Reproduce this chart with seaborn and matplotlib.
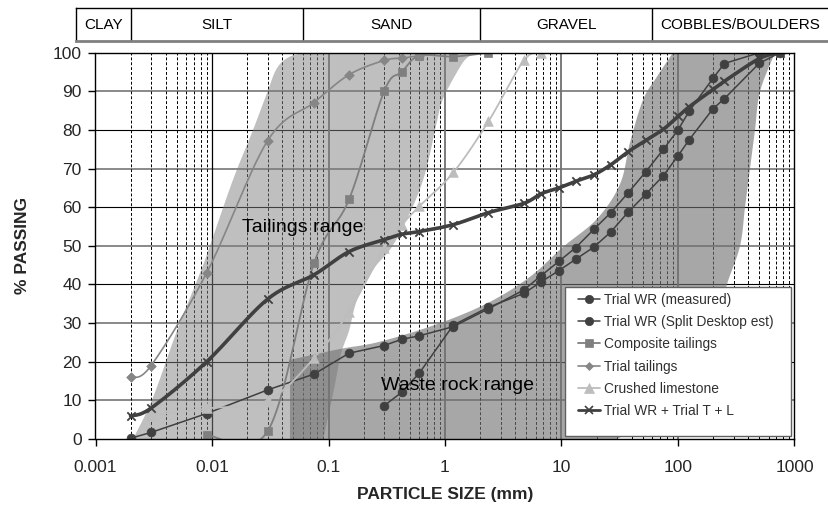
import numpy as np
import matplotlib
matplotlib.use("Agg")
import matplotlib.pyplot as plt
from matplotlib.lines import Line2D
from matplotlib.patches import Rectangle
import seaborn as sns

# ---------------- data ----------------
wr_meas_x = [0.002, 0.003, 0.009, 0.03, 0.075, 0.15, 0.3, 0.425, 0.6, 1.18, 2.36, 4.75, 6.7, 9.5,
             13.2, 19, 26.5, 37.5, 53, 75, 100, 125, 200, 250, 500]
wr_meas_y = [0.2, 1.7, 6.6, 12.7, 16.8, 22.2, 24.2, 25.8, 26.7, 29.1, 33.7, 38.6, 42.3, 46.0,
             49.5, 54.3, 58.6, 63.8, 69.2, 75.0, 80.0, 84.9, 93.4, 97.2, 100]
wr_split_x = [0.3, 0.425, 0.6, 1.18, 2.36, 4.75, 6.7, 9.5, 13.2, 19, 26.5, 37.5, 53, 75, 100,
              125, 200, 250, 500, 750]
wr_split_y = [8.6, 12.1, 17.0, 29.5, 34.1, 37.7, 40.7, 43.6, 46.5, 49.7, 53.6, 58.8, 63.4, 68.2,
              73.3, 77.5, 85.5, 88.1, 97.3, 100]
comp_x = [0.009, 0.03, 0.075, 0.15, 0.3, 0.425, 0.6, 1.18, 2.36]
comp_y = [1.0, 2.0, 45.5, 62.0, 90.0, 95.0, 99.2, 99.0, 100]
tail_x = [0.002, 0.003, 0.009, 0.03, 0.075, 0.15, 0.3, 0.425, 0.6]
tail_y = [16.0, 19.0, 43.0, 77.2, 87.1, 94.3, 98.0, 98.6, 99.2]
lime_x = [0.003, 0.009, 0.03, 0.075, 0.15, 0.3, 0.425, 0.6, 1.18, 2.36, 4.75, 6.7]
lime_y = [6.2, 7.9, 10.0, 20.9, 33.0, 49.4, 55.4, 60.2, 69.0, 82.2, 98.0, 100]
mix_x = [0.002, 0.003, 0.009, 0.03, 0.075, 0.15, 0.3, 0.425, 0.6, 1.18, 2.36, 4.75, 6.7, 9.5,
         13.2, 19, 26.5, 37.5, 53, 75, 100, 125, 200, 250, 500, 750]
mix_y = [6.0, 8.0, 20.0, 36.2, 42.5, 48.5, 51.6, 53.0, 53.7, 55.5, 58.6, 61.0, 63.5, 65.0,
         66.7, 68.4, 71.0, 74.4, 77.3, 80.2, 83.5, 86.0, 90.5, 92.6, 98.5, 100]

# envelope ranges
tr_left_x = [0.0021, 0.0031, 0.005, 0.0079, 0.0096, 0.0151, 0.0225, 0.0297, 0.0361, 0.0467, 0.0654]
tr_left_y = [0, 10.6, 28, 43, 50, 67, 80, 89.6, 96, 99, 100]
tr_right_x = [2.0, 1.55, 1.27, 0.96, 0.85, 0.70, 0.575, 0.436, 0.337, 0.241, 0.176, 0.15, 0.128, 0.11, 0.09]
tr_right_y = [100, 98.7, 95, 88, 82, 70.5, 62.7, 54.9, 49, 43.8, 36, 28, 22, 12, 0]

wr_upper_x = [0.0467, 0.1255, 0.277, 0.906, 2.43, 5.37, 10.3, 20.2, 31.8, 38.7, 50.1, 66.0, 90.6]
wr_upper_y = [20.5, 23.3, 25.2, 30, 35.5, 42, 49.7, 57, 66, 76.7, 87.8, 93.8, 100]
wr_right_x = [680, 506, 458, 415, 376, 341, 263, 216, 154, 90.6, 61, 30]
wr_right_y = [100, 90, 80, 70, 60, 50, 40, 30, 20, 10, 5, 0]

band_labels = ["CLAY", "SILT", "SAND", "GRAVEL", "COBBLES/BOULDERS"]
band_edges = [0.002, 0.06, 2, 60]

y_ticks = list(range(0, 101, 10))
x_ticks = [0.001, 0.01, 0.1, 1, 10, 100, 1000]
x_ticklabels = ["0.001", "0.01", "0.1", "1", "10", "100", "1000"]


def smooth(xs, ys, n=24):
    """Excel-style smoothed line (Catmull-Rom Bezier) in log-x space."""
    lx = np.log10(np.asarray(xs, float))
    y = np.asarray(ys, float)
    N = len(lx)
    outx, outy = [], []
    for i in range(N - 1):
        p0 = np.array([lx[i - 1], y[i - 1]]) if i > 0 else np.array([lx[i], y[i]])
        p1 = np.array([lx[i], y[i]])
        p2 = np.array([lx[i + 1], y[i + 1]])
        p3 = np.array([lx[i + 2], y[i + 2]]) if i + 2 < N else p2
        c1 = p1 + (p2 - p0) / 6.0
        c2 = p2 - (p3 - p1) / 6.0
        t = np.linspace(0, 1, n, endpoint=(i == N - 2))[:, None]
        b = ((1 - t) ** 3) * p1 + 3 * ((1 - t) ** 2) * t * c1 + 3 * (1 - t) * t ** 2 * c2 + t ** 3 * p2
        outx.extend(b[:, 0]); outy.extend(b[:, 1])
    return 10 ** np.array(outx), np.array(outy)


sns.set_style("white")
plt.rcParams['font.family'] = ['Liberation Sans', 'DejaVu Sans']

W, H = 829, 509
fig = plt.figure(figsize=(W / 100, H / 100), dpi=100)
ax_l, ax_r, ax_b, ax_t = 95.5, 794.5, 439, 52.7
ax = fig.add_axes([ax_l / W, 1 - ax_b / H, (ax_r - ax_l) / W, (ax_b - ax_t) / H])
ax.set_xscale('log')
ax.set_xlim(0.001, 1000)
ax.set_ylim(0, 100)

# gridlines
for v in range(10, 100, 10):
    if v % 20 == 0:
        ax.axhline(v, color='black', lw=0.8, zorder=0.5)
    else:
        ax.axhline(v, color='#808080', lw=1.3, zorder=0.5)
for dec in [0.001, 0.01, 0.1, 1, 10, 100]:
    for m in range(2, 10):
        ax.axvline(dec * m, color='black', lw=0.7, ls=(0, (3, 2)), zorder=0.5)
ax.axvline(0.01, color='black', lw=0.9, zorder=0.6)
for dec in [0.1, 1, 10, 100]:
    ax.axvline(dec, color='#707070', lw=1.3, zorder=0.6)

# range envelopes
lx1, ly1 = smooth(tr_left_x, tr_left_y, 12)
rx1, ry1 = smooth(tr_right_x, tr_right_y, 12)
ax.fill(np.r_[lx1, rx1], np.r_[ly1, ry1], color='#808080', alpha=0.5, lw=0, zorder=1)
ux, uy = smooth(wr_upper_x, wr_upper_y, 12)
rx2, ry2 = smooth(wr_right_x, wr_right_y, 12)
ax.fill(np.r_[wr_upper_x[0], ux, rx2], np.r_[0, uy, ry2], color='#727272', alpha=0.62, lw=0, zorder=1.1)

# series
series = [
    dict(x=wr_meas_x, y=wr_meas_y, c='#404040', m='o', s=40, lw=1.1, sm=False, label='Trial WR (measured)'),
    dict(x=wr_split_x, y=wr_split_y, c='#404040', m='o', s=40, lw=1.1, sm=False, label='Trial WR (Split Desktop est)'),
    dict(x=comp_x, y=comp_y, c='#7f7f7f', m='s', s=40, lw=1.3, sm=True, label='Composite tailings'),
    dict(x=tail_x, y=tail_y, c='#868686', m='D', s=24, lw=1.2, sm=True, label='Trial tailings'),
    dict(x=lime_x, y=lime_y, c='#bdbdbd', m='^', s=48, lw=1.3, sm=True, label='Crushed limestone'),
    dict(x=mix_x, y=mix_y, c='#404040', m='x', s=36, lw=2.6, sm=True, label='Trial WR + Trial T + L'),
]
for k, sd in enumerate(series):
    if sd['sm']:
        px, py = smooth(sd['x'], sd['y'])
    else:
        px, py = np.asarray(sd['x'], float), np.asarray(sd['y'], float)
    sns.lineplot(x=px, y=py, ax=ax, color=sd['c'], lw=sd['lw'], sort=False, estimator=None,
                 zorder=3 + k, legend=False)
    if sd['m'] == 'x':
        sns.scatterplot(x=sd['x'], y=sd['y'], ax=ax, color=sd['c'], marker='x', s=sd['s'],
                        linewidth=1.3, zorder=3.5 + k, legend=False)
    else:
        sns.scatterplot(x=sd['x'], y=sd['y'], ax=ax, color=sd['c'], marker=sd['m'], s=sd['s'],
                        edgecolor=sd['c'], linewidth=0.5, zorder=3.5 + k, legend=False)

# annotations
ax.text(0.018, 54.8, "Tailings range", fontsize=14, va='center', ha='left', color='black', zorder=10)
ax.text(0.282, 13.8, "Waste rock range", fontsize=14, va='center', ha='left', color='black', zorder=10)

# axes styling
for sp in ax.spines.values():
    sp.set_color('black'); sp.set_linewidth(1.0); sp.set_zorder(12)
ax.set_yticks(y_ticks)
ax.set_yticklabels([str(v) for v in y_ticks], fontsize=12.5)
ax.set_xticks(x_ticks)
ax.set_xticklabels(x_ticklabels, fontsize=12.5)
ax.xaxis.set_minor_locator(matplotlib.ticker.NullLocator())
ax.tick_params(axis='both', which='major', direction='out', length=5, width=1, color='black',
               left=True, bottom=True)
ax.tick_params(axis='y', pad=5)
ax.tick_params(axis='x', pad=10)
ax.set_xlabel("PARTICLE SIZE (mm)", fontsize=12.5, fontweight='bold', labelpad=9)
ax.set_ylabel("% PASSING", fontsize=12.5, fontweight='bold', labelpad=16)
ax.grid(False)

# legend with custom frame
lx0, lx1_, ly0, ly1_ = 565, 791, 436, 287
ax.add_patch(Rectangle(((lx0 - ax_l) / (ax_r - ax_l), (ax_b - ly0) / (ax_b - ax_t)),
                       (lx1_ - lx0) / (ax_r - ax_l), (ly0 - ly1_) / (ax_b - ax_t),
                       transform=ax.transAxes, facecolor='white', edgecolor='#606060', lw=1.0,
                       zorder=20))
handles = []
for sd in series:
    ms = {'o': 6, 's': 6, 'D': 4.5, '^': 6.5, 'x': 6}[sd['m']]
    handles.append(Line2D([0], [0], color=sd['c'], lw=min(sd['lw'], 2.0), marker=sd['m'],
                          markersize=ms, markeredgecolor=sd['c'], markeredgewidth=1.2 if sd['m'] == 'x' else 0.5))
leg = ax.legend(handles=handles, labels=[sd['label'] for sd in series], loc='upper left',
                bbox_to_anchor=((575 - ax_l) / (ax_r - ax_l), (ax_b - 290) / (ax_b - ax_t)),
                frameon=False, fontsize=9.9, handlelength=1.6, handletextpad=0.3,
                labelspacing=0.6, borderpad=0.2, borderaxespad=0)
leg.set_zorder(21)
for t in leg.get_texts():
    t.set_color('#303030')

# top classification band
bl, br, bt, bb = 76, 829, 8, 41
bax = fig.add_axes([bl / W, 1 - bb / H, (br - bl) / W, (bb - bt) / H])
bax.set_xscale('log')
xmin_b = 10 ** ((bl - ax_l) / ((ax_r - ax_l) / 6) - 3)
xmax_b = 10 ** ((br - ax_l) / ((ax_r - ax_l) / 6) - 3)
bax.set_xlim(xmin_b, xmax_b)
bax.set_ylim(0, 1)
bax.set_xticks([]); bax.set_yticks([])
bax.xaxis.set_minor_locator(matplotlib.ticker.NullLocator())
for e in band_edges:
    bax.axvline(e, color='black', lw=1.0)
edges_full = [xmin_b] + band_edges + [xmax_b]
for i, lab in enumerate(band_labels):
    cx = np.sqrt(edges_full[i] * edges_full[i + 1])
    bax.text(cx, 0.47, lab, ha='center', va='center', fontsize=11, color='black')
for name, sp in bax.spines.items():
    sp.set_color('black'); sp.set_linewidth(1.0)
bax.spines['bottom'].set_color('#808080'); bax.spines['bottom'].set_linewidth(2.0)
bax.spines['right'].set_visible(False)

fig.savefig("out.png", dpi=100)
